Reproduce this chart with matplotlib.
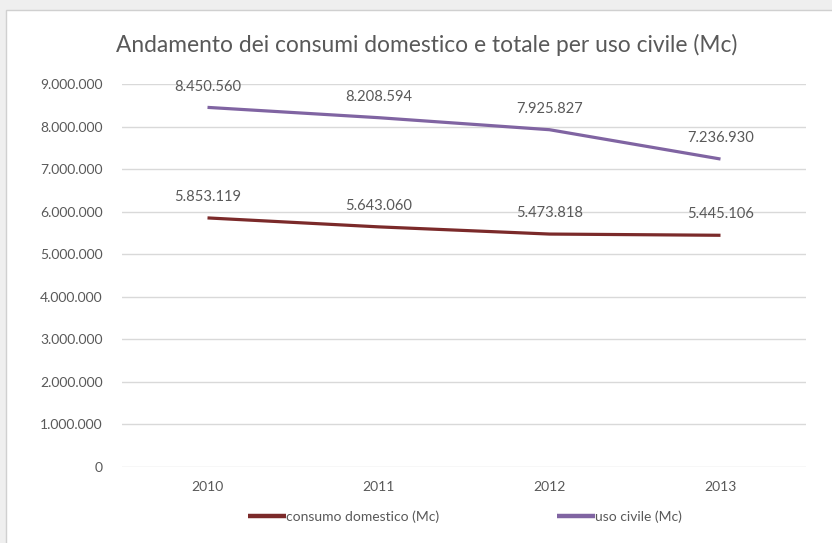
import matplotlib

matplotlib.use("Agg")
import matplotlib.pyplot as plt
from matplotlib.patches import Rectangle
from matplotlib.ticker import FuncFormatter

plt.rcParams["font.family"] = ["Lato", "DejaVu Sans"]

TEXT = "#595959"
GRID = "#d9d9d9"
DOMESTICO = "#7b2a2a"
CIVILE = "#8064a2"

years = ["2010", "2011", "2012", "2013"]
consumo_domestico = [5853119, 5643060, 5473818, 5445106]
uso_civile = [8450560, 8208594, 7925827, 7236930]
y_ticks = [0, 1000000, 2000000, 3000000, 4000000, 5000000, 6000000, 7000000, 8000000, 9000000]


def dotted(v, _pos=None):
    return f"{int(v):,}".replace(",", ".")


fig = plt.figure(figsize=(8.32, 5.43), dpi=100)
fig.patch.set_facecolor("#efefef")
# cornice bianca del grafico (ritaglio tipo screenshot)
fig.patches.append(Rectangle((6 / 832, -0.01), 1.0, 1 - 10 / 543 + 0.01,
                             transform=fig.transFigure, facecolor="white",
                             edgecolor="#d0d0d0", linewidth=1.0, zorder=-1))

ax = fig.add_axes([122 / 832, 1 - 467 / 543, 684 / 832, 383 / 543])
ax.set_zorder(1)
ax.patch.set_alpha(0)
x = range(len(years))
ax.plot(x, consumo_domestico, color=DOMESTICO, linewidth=2.3, solid_capstyle="butt",
        label="consumo domestico (Mc)")
ax.plot(x, uso_civile, color=CIVILE, linewidth=2.3, solid_capstyle="butt",
        label="uso civile (Mc)")

for serie in (consumo_domestico, uso_civile):
    for i, v in enumerate(serie):
        ax.annotate(dotted(v), xy=(i, v), xytext=(0, 15), textcoords="offset points",
                    ha="center", va="center", color=TEXT, fontsize=10.6)

ax.set_xlim(-0.5, len(years) - 0.5)
ax.set_ylim(0, 9000000)
ax.set_xticks(list(x))
ax.set_xticklabels(years)
ax.set_yticks(y_ticks)
ax.yaxis.set_major_formatter(FuncFormatter(dotted))
ax.grid(axis="y", color=GRID, linewidth=1.0)
ax.set_axisbelow(True)
ax.tick_params(length=0, colors=TEXT, labelsize=10)
ax.tick_params(axis="y", pad=14)
ax.tick_params(axis="x", pad=10)
for side in ax.spines:
    ax.spines[side].set_visible(False)

fig.text(427 / 832, 1 - 45 / 543, "Andamento dei consumi domestico e totale per uso civile (Mc)",
         ha="center", va="center", color=TEXT, fontsize=16.4)

fig.legend(loc="center", bbox_to_anchor=(465 / 832, 1 - 517 / 543), ncol=2, frameon=False,
           fontsize=10, labelcolor=TEXT, handlelength=2.7, handletextpad=0.0,
           columnspacing=8.5)
for line in fig.legends[0].get_lines():
    line.set_linewidth(3.2)

fig.savefig("out.png", dpi=100, facecolor=fig.get_facecolor())
